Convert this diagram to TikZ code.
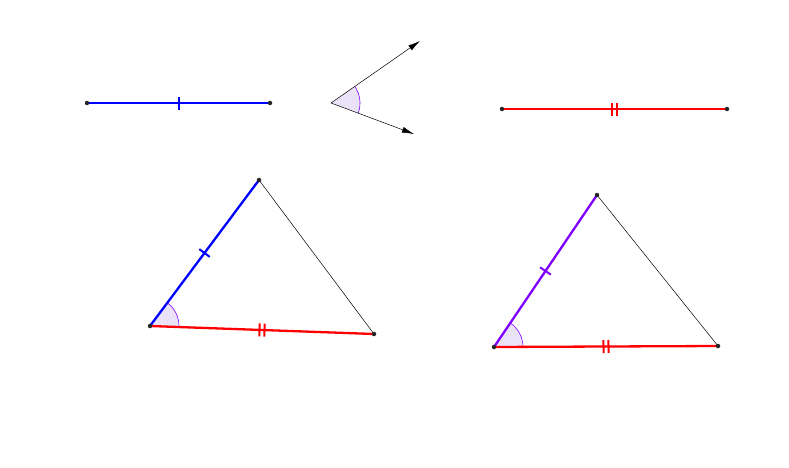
\documentclass[tikz,border=0pt]{standalone}
\usetikzlibrary{angles,arrows.meta,decorations.markings}
\definecolor{segblue}{rgb}{0,0,1}
\definecolor{segred}{rgb}{1,0,0}
\definecolor{segviolet}{RGB}{127,0,255}
\definecolor{arcline}{RGB}{127,0,255}
\definecolor{arcfill}{RGB}{234,226,246}

\begin{document}
\begin{tikzpicture}[x=1pt,y=1pt]
    \tikzstyle{seg}=[line width=2.3pt]
    \tikzstyle{side}=[line width=0.5pt,black]
    \tikzstyle{onetick}=[decoration={markings,mark=at position 0.5 with {\draw[line width=2pt] (0,-6.5) -- (0,6.5);}},postaction=decorate]
    \tikzstyle{twoticks}=[decoration={markings,mark=at position 0.5 with {\draw[line width=2pt] (-2.5,-6.5) -- (-2.5,6.5) (2.5,-6.5) -- (2.5,6.5);}},postaction=decorate]
    \tikzstyle{mark angle}=[draw=arcline,fill=arcfill,line width=0.6pt,angle radius=29pt]
    \tikzstyle{dot}=[circle,fill=black!85,inner sep=0pt,minimum size=4.5pt]
    \useasboundingbox (0,0) rectangle (789,467);
    \begin{scope}

       % the two given segments
       \coordinate (b1) at (87,364);
       \coordinate (b2) at (270,364);
       \draw[seg,segblue,onetick] (b1) -- (b2);
       \node[dot] at (b1) {};
       \node[dot] at (b2) {};

       \coordinate (r1) at (502,358);
       \coordinate (r2) at (727,358);
       \draw[seg,segred,twoticks] (r1) -- (r2);
       \node[dot] at (r1) {};
       \node[dot] at (r2) {};

       % the given angle
       \coordinate (V) at (331,364);
       \coordinate (Vup) at (420,426);
       \coordinate (Vdn) at (414,333);
       \pic[mark angle] {angle = Vdn--V--Vup};
       \draw[side,-{Latex[length=12pt,width=6pt]}] (V) -- (Vup);
       \draw[side,-{Latex[length=12pt,width=6pt]}] (V) -- (Vdn);

       % first triangle
       \coordinate (A) at (150,141);
       \coordinate (B) at (259,287);
       \coordinate (C) at (374,133);
       \pic[mark angle] {angle = C--A--B};
       \draw[side] (B) -- (C);
       \draw[seg,segblue,onetick] (A) -- (B);
       \draw[seg,segred,twoticks] (A) -- (C);
       \foreach\p in {A,B,C}{
            \node[dot] at (\p) {};
        }

       % second triangle
       \coordinate (A') at (494,120);
       \coordinate (B') at (597,272);
       \coordinate (C') at (718,121);
       \pic[mark angle] {angle = C'--A'--B'};
       \draw[side] (B') -- (C');
       \draw[seg,segviolet,onetick] (A') -- (B');
       \draw[seg,segred,twoticks] (A') -- (C');
       \foreach\p in {A',B',C'}{
            \node[dot] at (\p) {};
        }

    \end{scope}
\end{tikzpicture}
\end{document}
